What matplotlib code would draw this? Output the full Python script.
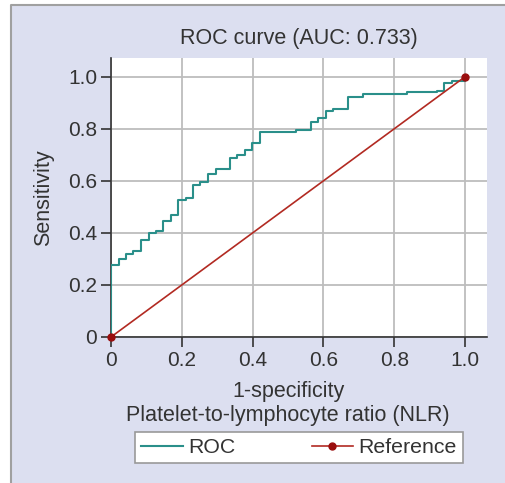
import matplotlib
matplotlib.use("Agg")
import matplotlib.pyplot as plt
from matplotlib.lines import Line2D
from matplotlib.patches import Rectangle

# ROC step points (1-specificity, sensitivity)
fpr = [0.0, 0.0, 0.023, 0.042, 0.063, 0.085, 0.107, 0.126, 0.148, 0.169,
       0.189, 0.211, 0.231, 0.252, 0.273, 0.296, 0.336, 0.357, 0.379, 0.399,
       0.421, 0.523, 0.564, 0.585, 0.606, 0.628, 0.670, 0.711, 0.837, 0.920,
       0.941, 0.963, 1.0]
tpr = [0.0, 0.276, 0.299, 0.317, 0.330, 0.372, 0.398, 0.408, 0.445, 0.470,
       0.526, 0.535, 0.583, 0.594, 0.628, 0.646, 0.689, 0.700, 0.720, 0.746,
       0.786, 0.796, 0.825, 0.840, 0.868, 0.876, 0.923, 0.933, 0.940, 0.946,
       0.975, 0.985, 1.0]
ref_x = [0.0, 1.0]
ref_y = [0.0, 1.0]
ticks = [0, 0.2, 0.4, 0.6, 0.8, 1.0]
tick_labels = ["0", "0.2", "0.4", "0.6", "0.8", "1.0"]

plt.rcParams["font.family"] = ["Liberation Sans", "DejaVu Sans"]
bg = "#dcdff0"
teal = "#2a8f8a"
red = "#b22a22"
txt = "#333333"
fs = 15
W, H = 506, 483

fig = plt.figure(figsize=(W / 100, H / 100), dpi=100)
fig.patch.set_facecolor(bg)
# white margin on the left and top, with a grey panel border
fig.patches.append(Rectangle((0, 0), 11 / W, 1, transform=fig.transFigure,
                             facecolor="white", edgecolor="none", zorder=-10))
fig.patches.append(Rectangle((0, 1 - 5 / H), 1, 5 / H, transform=fig.transFigure,
                             facecolor="white", edgecolor="none", zorder=-10))
fig.lines.append(Line2D([11 / W, 11 / W, 1], [0, 1 - 5 / H, 1 - 5 / H],
                        transform=fig.transFigure, color="#a0a0a0",
                        linewidth=1.5, zorder=-5))

ax = fig.add_axes([111 / W, 1 - 337 / H, 376 / W, 279 / H])
ax.set_facecolor("white")
ax.set_xlim(0, 1.062)
ax.set_ylim(0, 1.072)

ax.step(fpr, tpr, where="post", color=teal, linewidth=1.5, label="ROC", zorder=3)
ax.plot(ref_x, ref_y, color=red, linewidth=1.2, marker="o", markersize=5,
        markerfacecolor="#9a0e0e", markeredgecolor="#9a0e0e",
        label="Reference", zorder=4, clip_on=False)

ax.set_xticks(ticks)
ax.set_xticklabels(tick_labels)
ax.set_yticks(ticks)
ax.set_yticklabels(tick_labels)
ax.grid(True, color="#bdbdbd", linewidth=1.3)
ax.set_axisbelow(True)
for s in ["top", "right"]:
    ax.spines[s].set_visible(False)
for s in ["left", "bottom"]:
    ax.spines[s].set_color(txt)
    ax.spines[s].set_linewidth(1.2)
ax.tick_params(direction="out", length=7, width=1.2, color=txt,
               labelsize=fs, labelcolor=txt, pad=3)

ax.set_title("ROC curve (AUC: 0.733)", fontsize=15.5, color=txt, pad=10)
ax.set_ylabel("Sensitivity", fontsize=15.5, color=txt, labelpad=10)
fig.text(288 / W, 1 - 397 / H, "1-specificity", ha="center", va="baseline",
         fontsize=15.5, color=txt)
fig.text(288 / W, 1 - 421 / H, "Platelet-to-lymphocyte ratio (NLR)",
         ha="center", va="baseline", fontsize=15.5, color=txt)

leg = fig.legend(loc="center", bbox_to_anchor=(299 / W, 1 - 447.5 / H),
                 ncol=2, fontsize=15.3, frameon=True, fancybox=False,
                 facecolor="white", framealpha=1.0,
                 edgecolor="#999999", handlelength=1.95, handletextpad=0.25,
                 columnspacing=3.6, borderpad=0.28, labelcolor=txt)
leg.get_frame().set_linewidth(1.2)

fig.savefig("out.png", dpi=100, facecolor=fig.get_facecolor())
